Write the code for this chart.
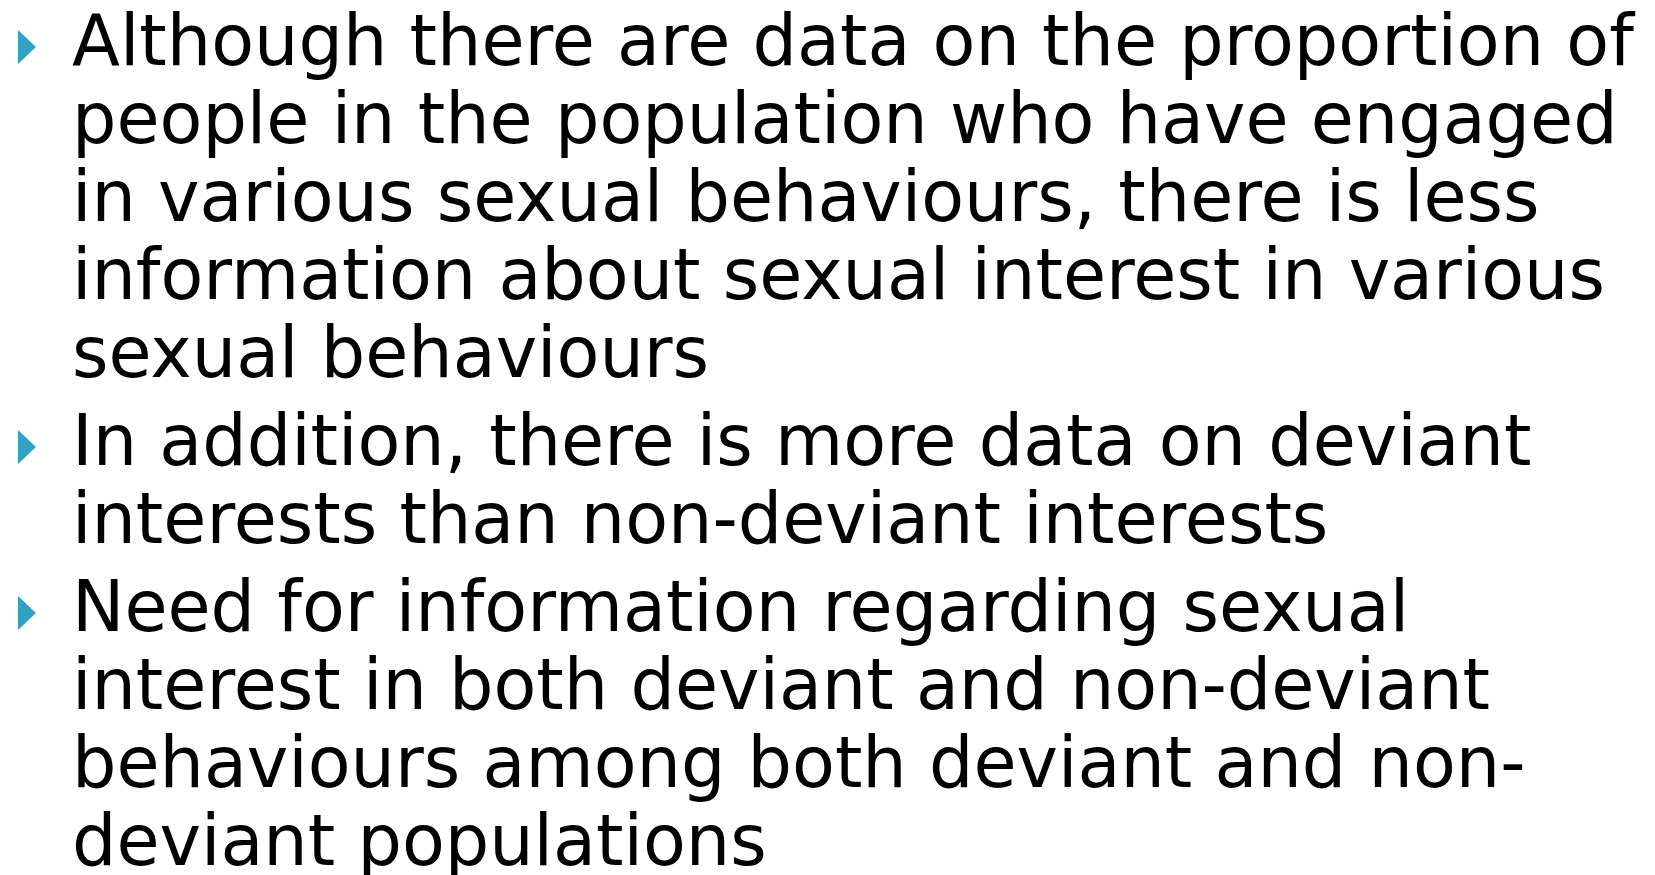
<!DOCTYPE html>
<html>
<head>
<meta charset="utf-8">
<script src="https://cdn.jsdelivr.net/npm/d3@7"></script>
<style>
  html, body { margin: 0; padding: 0; background: #fff; overflow: hidden; }
</style>
</head>
<body>
<div id="root"></div>
<script>
const width = 1655;
const height = 875;

// Slide content: one list of wrapped lines per bullet

const bullet1 = [
  'Although there are data on the proportion of',
  'people in the population who have engaged',
  'in various sexual behaviours, there is less',
  'information about sexual interest in various',
  'sexual behaviours',
];

const bullet2 = [
  'In addition, there is more data on deviant',
  'interests than non-deviant interests',
];

const bullet3 = [
  'Need for information regarding sexual',
  'interest in both deviant and non-deviant',
  'behaviours among both deviant and non-',
  'deviant populations',
];

const bullets = [bullet1, bullet2, bullet3];

const layout = {
  textX: 72,
  firstBaseline: 65,
  lineStep: 78,
  paraGap: 10,
  fontSize: 71,
  line1Right: 1634,
};

const svg = d3
  .select('#root')
  .append('svg')
  .attr('width', width)
  .attr('height', height);

// Flatten lines, keeping track of which bullet each belongs to

const rows = [];
bullets.forEach((lines, b) => {
  lines.forEach((text, i) => rows.push({ text, bullet: b, first: i === 0 }));
});

const baseline = (i) =>
  layout.firstBaseline + i * layout.lineStep + rows[i].bullet * layout.paraGap;

// Bullet markers

svg
  .selectAll('path.marker')
  .data(rows.map((r, i) => ({ ...r, i })).filter((r) => r.first))
  .enter()
  .append('path')
  .attr('class', 'marker')
  .attr('fill', '#2fa3c1')
  .attr('d', (d) => {
    const y = baseline(d.i);
    return `M18,${y - 35}L36,${y - 18}L18,${y - 1}Z`;
  });

// Text lines

const textGroup = svg.append('g');

const lineText = textGroup
  .selectAll('text')
  .data(rows)
  .enter()
  .append('text')
  .attr('x', 0)
  .attr('y', (d, i) => baseline(i))
  .attr('font-family', '"DejaVu Sans", sans-serif')
  .attr('font-size', layout.fontSize)
  .attr('fill', '#000')
  .text((d) => d.text);

// Horizontal squeeze so the first line spans like the reference

const w1 = lineText.node().getComputedTextLength();
const sx = (layout.line1Right - layout.textX) / w1;
textGroup.attr('transform', `translate(${layout.textX},0) scale(${sx},1)`);
</script>
</body>
</html>
